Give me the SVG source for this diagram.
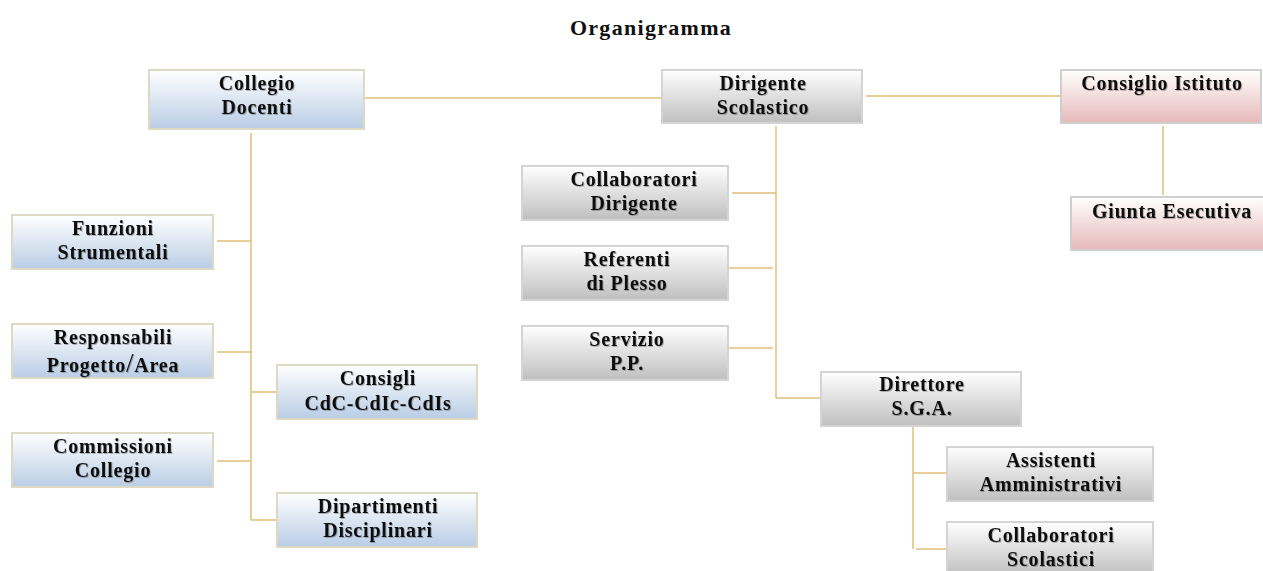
<svg xmlns="http://www.w3.org/2000/svg" width="1263" height="571" viewBox="0 0 1263 571">
<defs>
<linearGradient id="gBlue" x1="0" y1="0" x2="0" y2="1"><stop offset="0" stop-color="#ffffff"/><stop offset="1" stop-color="#b9cde5"/></linearGradient>
<linearGradient id="gGray" x1="0" y1="0" x2="0" y2="1"><stop offset="0" stop-color="#ffffff"/><stop offset="1" stop-color="#bfbfbf"/></linearGradient>
<linearGradient id="gPink" x1="0" y1="0" x2="0" y2="1"><stop offset="0" stop-color="#ffffff"/><stop offset="1" stop-color="#e6b9b8"/></linearGradient>
<filter id="ts" x="-10%" y="-30%" width="120%" height="160%"><feDropShadow dx="1" dy="1" stdDeviation="0.6" flood-color="#000" flood-opacity="0.25"/></filter>
</defs>
<style>
.t{font-family:"Liberation Serif","Times New Roman",serif;font-weight:bold;font-size:20px;letter-spacing:0.8px;fill:#111;text-anchor:middle;filter:url(#ts)}
.title{font-family:"Liberation Serif","Times New Roman",serif;font-weight:bold;font-size:22px;letter-spacing:1.3px;fill:#111;text-anchor:middle}
.blue{fill:url(#gBlue);stroke:#ddd9c3;stroke-width:2}
.gray{fill:url(#gGray);stroke:#d4d4d4;stroke-width:2}
.pink{fill:url(#gPink);stroke:#cfcfcf;stroke-width:2}
.c{fill:none;stroke:#dfbf7a;stroke-width:1.5}
</style>
<text class="title" x="651" y="35">Organigramma</text>
<g id="connectors">
<path class="c" d="M364 98H662"/>
<path class="c" d="M866 96H1061"/>
<path class="c" d="M1163 126V195"/>
<path class="c" d="M251 133V520M217 241H251M217 352H251M217 461H251M251 392H277M251 520H277"/>
<path class="c" d="M776 126V398M732 193H776M728 268H773M728 348H773M776 398H821"/>
<path class="c" d="M913 426V549M913 473H947M916 549H947"/>
</g>
<g id="collegio"><rect class="blue" x="149" y="70" width="215" height="59"/><text class="t" x="257" y="90">Collegio</text><text class="t" x="257" y="114">Docenti</text></g>
<g id="dirigente"><rect class="gray" x="662" y="70" width="200" height="53"/><text class="t" x="763" y="90">Dirigente</text><text class="t" x="763" y="114">Scolastico</text></g>
<g id="consiglio"><rect class="pink" x="1061" y="70" width="200" height="53"/><text class="t" x="1162" y="90">Consiglio Istituto</text></g>
<g id="giunta"><rect class="pink" x="1071" y="197" width="193" height="53"/><text class="t" x="1172" y="218">Giunta Esecutiva</text></g>
<g id="funzioni"><rect class="blue" x="12" y="215" width="201" height="54"/><text class="t" x="113" y="235">Funzioni</text><text class="t" x="113" y="259">Strumentali</text></g>
<g id="responsabili"><rect class="blue" x="12" y="324" width="201" height="54"/><text class="t" x="113" y="344">Responsabili</text><text class="t" x="113" y="372">Progetto<tspan font-size="27" font-weight="normal">/</tspan>Area</text></g>
<g id="commissioni"><rect class="blue" x="12" y="433" width="201" height="54"/><text class="t" x="113" y="453">Commissioni</text><text class="t" x="113" y="477">Collegio</text></g>
<g id="consigli"><rect class="blue" x="277" y="365" width="200" height="54"/><text class="t" x="378" y="385">Consigli</text><text class="t" x="378" y="410">CdC-CdIc-CdIs</text></g>
<g id="dipartimenti"><rect class="blue" x="277" y="493" width="200" height="54"/><text class="t" x="378" y="513">Dipartimenti</text><text class="t" x="378" y="537">Disciplinari</text></g>
<g id="collaboratori-dirigente"><rect class="gray" x="522" y="166" width="206" height="54"/><text class="t" x="634" y="186">Collaboratori</text><text class="t" x="634" y="210">Dirigente</text></g>
<g id="referenti"><rect class="gray" x="522" y="246" width="206" height="54"/><text class="t" x="627" y="266">Referenti</text><text class="t" x="627" y="290">di Plesso</text></g>
<g id="servizio"><rect class="gray" x="522" y="326" width="206" height="54"/><text class="t" x="627" y="346">Servizio</text><text class="t" x="627" y="370">P.P.</text></g>
<g id="direttore"><rect class="gray" x="821" y="372" width="200" height="54"/><text class="t" x="922" y="391">Direttore</text><text class="t" x="922" y="415">S.G.A.</text></g>
<g id="assistenti"><rect class="gray" x="947" y="447" width="206" height="54"/><text class="t" x="1051" y="467">Assistenti</text><text class="t" x="1051" y="491">Amministrativi</text></g>
<g id="collaboratori-scolastici"><rect class="gray" x="947" y="522" width="206" height="54"/><text class="t" x="1051" y="542">Collaboratori</text><text class="t" x="1051" y="566">Scolastici</text></g>
</svg>
